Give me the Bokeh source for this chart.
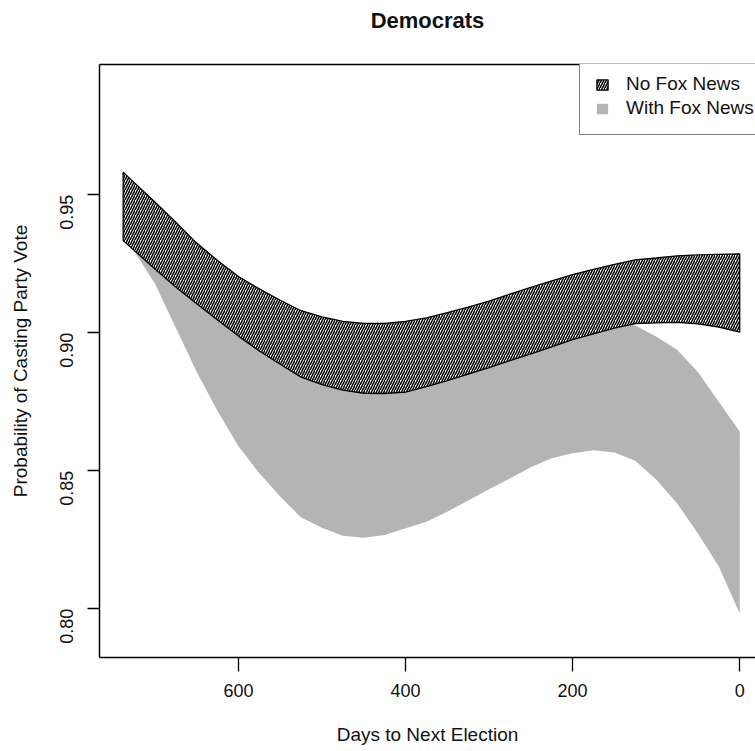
import math
from bokeh.plotting import figure
from bokeh.models import (Range1d, FixedTicker, Legend, LegendItem,
                          PrintfTickFormatter, LinearAxis)
from bokeh.embed import file_html
from bokeh.resources import INLINE

# ---- data ----
days = [738, 725, 700, 675, 650, 625, 600, 575, 550, 525, 500, 475, 450, 425, 400,
        375, 350, 325, 300, 275, 250, 225, 200, 175, 150, 125, 100, 75, 50, 25, 0]
nofox_upper = [0.9582, 0.9545, 0.9474, 0.9401, 0.9325, 0.9262, 0.9204, 0.9159,
               0.9118, 0.9080, 0.9058, 0.9041, 0.9034, 0.9034, 0.9041, 0.9054,
               0.9073, 0.9093, 0.9115, 0.9140, 0.9165, 0.9188, 0.9211, 0.9230,
               0.9248, 0.9264, 0.9271, 0.9279, 0.9282, 0.9284, 0.9286]
nofox_lower = [0.9334, 0.9299, 0.9231, 0.9166, 0.9105, 0.9046, 0.8988, 0.8934,
               0.8886, 0.8839, 0.8812, 0.8792, 0.8781, 0.8780, 0.8785, 0.8805,
               0.8827, 0.8850, 0.8874, 0.8899, 0.8924, 0.8949, 0.8975, 0.8996,
               0.9017, 0.9033, 0.9036, 0.9038, 0.9032, 0.9021, 0.9002]
fox_upper = [0.9334, 0.9315, 0.9251, 0.9186, 0.9125, 0.9066, 0.9008, 0.8954,
             0.8906, 0.8859, 0.8832, 0.8812, 0.8801, 0.8800, 0.8805, 0.8825,
             0.8847, 0.8870, 0.8894, 0.8919, 0.8944, 0.8969, 0.8995, 0.9016,
             0.9037, 0.9026, 0.8987, 0.8939, 0.8858, 0.8749, 0.8642]
fox_lower = [0.9334, 0.9297, 0.9179, 0.9018, 0.8859, 0.8717, 0.8589, 0.8491,
             0.8407, 0.8331, 0.8294, 0.8265, 0.8257, 0.8267, 0.8292, 0.8315,
             0.8352, 0.8392, 0.8433, 0.8472, 0.8513, 0.8545, 0.8564, 0.8574,
             0.8566, 0.8536, 0.8468, 0.8382, 0.8273, 0.8153, 0.7983]
x_ticks = [600, 400, 200, 0]
y_ticks = [0.80, 0.85, 0.90, 0.95]
series_labels = ["No Fox News", "With Fox News"]
title_text = "Democrats"
x_title = "Days to Next Election"
y_title = "Probability of Casting Party Vote"

FONT = "Liberation Sans"
TXT = "#111111"

p = figure(width=755, height=751, output_backend="svg", toolbar_location=None,
           x_range=Range1d(766.3, -18.9), y_range=Range1d(0.78235, 0.99721),
           min_border_left=99, min_border_right=0, min_border_top=64,
           min_border_bottom=94)
p.outline_line_color = None
p.xgrid.visible = False
p.ygrid.visible = False
p.background_fill_color = "white"
p.border_fill_color = "white"

xa = p.below[0]
ya = p.left[0]

# bands
gx = days + days[::-1]
grey = p.patch(gx, fox_upper + fox_lower[::-1], fill_color="#b4b4b4",
               line_color=None)
hatch = p.patch(gx, nofox_upper + nofox_lower[::-1], fill_color="white",
                hatch_pattern="/", hatch_color="black", hatch_scale=5,
                hatch_weight=1.5, line_color="black", line_width=1.3)

# top frame line: an axis with one invisible tick, which also lifts the title
top = LinearAxis(ticker=FixedTicker(ticks=x_ticks[:1]), axis_line_color="black",
                 axis_line_width=1.5, major_tick_out=28, major_tick_in=0,
                 major_tick_line_color=None, minor_tick_line_color=None,
                 minor_tick_out=0, major_label_standoff=0,
                 major_label_overrides={x_ticks[0]: ""},
                 major_label_text_font_size="1px")
p.add_layout(top, "above")

# axes
xa.ticker = FixedTicker(ticks=x_ticks)
ya.ticker = FixedTicker(ticks=y_ticks)
ya.formatter = PrintfTickFormatter(format="%.2f")
ya.major_label_orientation = math.pi / 2
for ax in (xa, ya):
    ax.axis_line_color = "black"
    ax.axis_line_width = 1.5
    ax.major_tick_line_color = "black"
    ax.major_tick_line_width = 1.3
    ax.major_tick_in = 0
    ax.minor_tick_line_color = None
    ax.major_label_text_font = FONT
    ax.major_label_text_font_size = "18px"
    ax.major_label_text_color = TXT
    ax.axis_label_text_font = FONT
    ax.axis_label_text_font_size = "19px"
    ax.axis_label_text_font_style = "normal"
    ax.axis_label_text_color = TXT
xa.major_tick_out = 14
xa.major_label_standoff = 12
xa.axis_label = x_title
xa.axis_label_standoff = 24
ya.major_tick_out = 12
ya.major_label_standoff = 21
ya.axis_label = y_title
ya.axis_label_standoff = 20

p.title.text = title_text
p.title.align = "center"
p.title.text_font = FONT
p.title.text_font_size = "22px"
p.title.text_font_style = "bold"
p.title.text_color = TXT
p.title.standoff = 8

legend = Legend(items=[LegendItem(label=series_labels[0], renderers=[hatch]),
                       LegendItem(label=series_labels[1], renderers=[grey])],
                location=(480, 522), padding=15, spacing=2,
                glyph_width=14, glyph_height=13, label_height=20,
                label_width=150, label_standoff=17, label_text_font=FONT,
                label_text_font_size="19px", label_text_color=TXT,
                border_line_color="black", border_line_width=1.5,
                background_fill_alpha=1.0, margin=0)
p.add_layout(legend)

open("out.html", "w").write(file_html(p, INLINE))
